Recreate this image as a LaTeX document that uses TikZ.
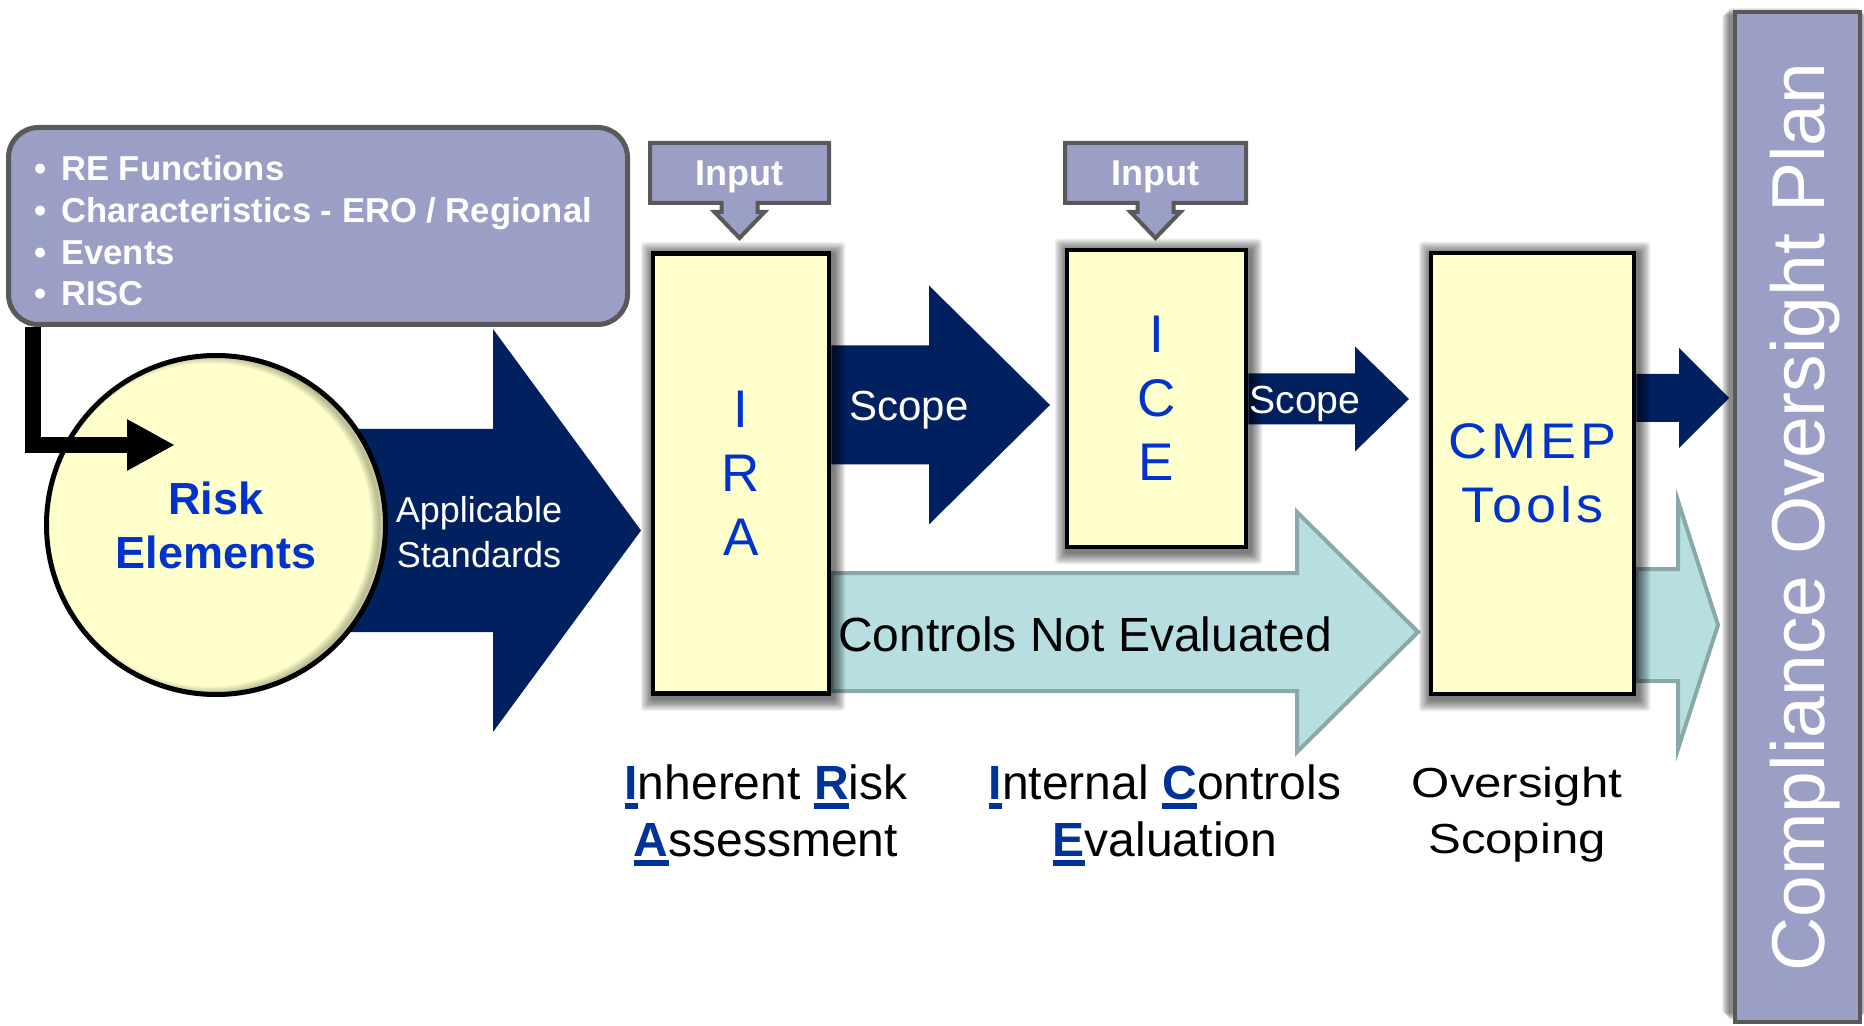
\documentclass[tikz,border=0pt]{standalone}
\usepackage{fontspec}
\setmainfont{Liberation Sans}
\newfontfamily\widefont[FakeStretch=1.17]{Liberation Sans}
\newfontfamily\spacedfont[FakeStretch=1.08,LetterSpace=8]{Liberation Sans}
\usetikzlibrary{calc,arrows.meta,backgrounds}
\pgfdeclarelayer{shadow}
\pgfsetlayers{background,shadow,main}

\definecolor{navy}{RGB}{0,32,96}
\definecolor{lavender}{RGB}{155,158,197}
\definecolor{frame}{RGB}{89,89,89}
\definecolor{paleyellow}{RGB}{255,255,204}
\definecolor{stepblue}{RGB}{0,51,204}
\definecolor{keyblue}{RGB}{0,51,153}
\definecolor{tealfill}{RGB}{183,222,225}
\definecolor{tealline}{RGB}{138,168,170}

% first letter of an acronym word: bold, blue, with a heavy underline
\newlength\keylen
\newcommand\keyletter[1]{\settowidth\keylen{\bfseries #1}%
  \textcolor{keyblue}{\rlap{\smash{\rule[-4.5pt]{\keylen}{3pt}}}\bfseries #1}}

% list bullet
\newcommand\bul{•\hspace{2.6pt} }

% block arrow: style, start, tip, shaft half height, head half height, head length
\newcommand\blockarrow[6]{%
  \path[#1] ($(#2)+(0,-#4)$) -- ($(#3)+(-#6,-#4)$) -- ($(#3)+(-#6,-#5)$) -- (#3)
    -- ($(#3)+(-#6,#5)$) -- ($(#3)+(-#6,#4)$) -- ($(#2)+(0,#4)$) -- cycle;}

% "Input" callout pointing down: centre, half width
\newcommand\inputcallout[2]{%
  \draw[callout] ($(#1)+(-#2,-30)$) -- ($(#1)+(#2,-30)$) -- ($(#1)+(#2,30)$)
    -- ($(#1)+(18,30)$) -- ($(#1)+(18,39)$) -- ($(#1)+(25,39)$) -- ($(#1)+(0,65)$)
    -- ($(#1)+(-25,39)$) -- ($(#1)+(-18,39)$) -- ($(#1)+(-18,30)$) -- ($(#1)+(-#2,30)$) -- cycle;}

% soft drop shadow round a rectangular node: node, x offset, y offset, steps, step size, opacity
\newcommand\boxshadow[6]{%
  \foreach \k in {1,...,#4} {%
    \fill[black, opacity=#6, rounded corners=1.5pt]
      ($(#1.north west)+(#2-\k*#5,#3-\k*#5)$) rectangle ($(#1.south east)+(#2+\k*#5,#3+\k*#5)$);
  }}

\begin{document}
\begin{tikzpicture}[x=0.5pt, y=-0.5pt,
  stepbox/.style={draw=black, line width=2.25pt, fill=paleyellow, text=stepblue,
    align=center, inner sep=0pt},
  callout/.style={draw=frame, line width=2pt, fill=lavender, line join=miter},
  inputtext/.style={text=white, font=\fontsize{18}{18}\selectfont\bfseries,
    text height=12.9pt, text depth=0pt, inner sep=0pt},
  navyarrow/.style={fill=navy},
  tealarrow/.style={fill=tealfill, draw=tealline, line width=2pt, line join=miter},
  arrowtext/.style={text=white, inner sep=0pt, align=center},
  caption/.style={align=center, inner sep=0pt, font=\fontsize{24}{28.5}\selectfont},
]
\useasboundingbox (0,0) rectangle (1864,1026);

% sources of risk
\node[draw=frame, line width=2.5pt, fill=lavender, rounded corners=15pt,
  minimum width=309.5pt, minimum height=98.5pt, inner sep=0pt] (src) at (318,226) {};
\node[anchor=west, inner sep=0pt, align=left, text=white,
  font=\fontsize{17.3}{20.85}\selectfont\bfseries] (srclist) at (34,231)
  {\bul RE Functions\\\bul Characteristics - ERO / Regional\\\bul Events\\\bul RISC};

% risk elements, with a soft inner shade along its right rim
\node[circle, draw=black, line width=2.5pt, fill=paleyellow, minimum size=169.5pt,
  inner sep=0pt, align=center, text=stepblue,
  font=\fontsize{22.5}{27}\selectfont\bfseries] (risk) at (216,525) {Risk\\Elements};
\begin{scope}
  \clip (risk.center) circle [radius=84.75pt];
  \foreach \k in {1,...,8}
    \draw[black, opacity=0.035, line width=\k*1pt] ($(risk.center)+(-6,0)$) circle [radius=84.75pt];
\end{scope}

% process steps
\node[stepbox, minimum width=88pt, minimum height=220pt,
  font=\fontsize{26.5}{32}\selectfont] (ira) at (741,473.5) {I\\R\\A};
\node[stepbox, minimum width=89.5pt, minimum height=148.5pt,
  font=\fontsize{26.5}{32}\selectfont] (ice) at (1156.5,398.5) {I\\C\\E};
\node[stepbox, minimum width=101.5pt, minimum height=220.5pt,
  font=\spacedfont\fontsize{25}{32}\selectfont] (cmep) at (1532.5,473.5) {CMEP\\Tools};

% resulting plan
\node[draw=frame, line width=2pt, fill=lavender, rotate=90, minimum width=505pt,
  minimum height=62.5pt, inner sep=0pt, text=white,
  font=\fontsize{37.5}{40}\selectfont, text height=26.9pt, text depth=0pt]
  (plan) at (1797.5,517) {Compliance Oversight Plan};

% inputs
\coordinate (in1c) at (739.5,173);
\coordinate (in2c) at (1155.5,173);
\inputcallout{in1c}{89.5}
\inputcallout{in2c}{90.5}
\node[inputtext] (in1) at (in1c) {Input};
\node[inputtext] (in2) at (in2c) {Input};

% feed from the sources into the risk elements
\coordinate (elbowtip) at (175,445);
\draw[line width=8pt, line join=miter, -{Triangle[length=24pt,width=24pt]}]
  ($(src.south west)+(27,0)$) |- (elbowtip);

% arrow labels
\node[arrowtext, font=\fontsize{18}{22.5}\selectfont] (appstd) at (479,532) {Applicable\\Standards};
\node[arrowtext, font=\fontsize{21}{21}\selectfont, text height=15pt, text depth=0pt]
  (scope1) at (909,406) {Scope};
\node[arrowtext, font=\fontsize{19.6}{19.6}\selectfont, text height=14pt, text depth=0pt]
  (scope2) at (1305,400) {Scope};
\node[inner sep=0pt, font=\fontsize{24}{24}\selectfont] (notevald) at (1085,634) {Controls Not Evaluated};

% step names
\node[caption] (iraname) at (766,811) {\keyletter{I}nherent \keyletter{R}isk\\\keyletter{A}ssessment};
\node[caption] (icename) at (1165,811) {\keyletter{I}nternal \keyletter{C}ontrols\\\keyletter{E}valuation};
\node[caption, font=\widefont\fontsize{21}{28}\selectfont] (cmepname) at (1517,815) {Oversight\\Scoping};

% arrow tips and the points where each arrow leaves its box
\coordinate (tipA) at (641,530.5);
\coordinate (tipS1) at (1050,405);
\coordinate (tipS2) at (1409,399);
\coordinate (tipS3) at (1729,398);
\coordinate (tipC) at (1418,632);
\coordinate (tipT2) at (1718,625);
\coordinate (startA) at (risk.center |- tipA);
\coordinate (startS1) at (ira.east |- tipS1);
\coordinate (startS2) at (ice.east |- tipS2);
\coordinate (startS3) at (cmep.east |- tipS3);
\coordinate (startC) at (ira.east |- tipC);
\coordinate (startT2) at (cmep.east |- tipT2);

% drop shadows of the boxes
\begin{pgfonlayer}{shadow}
  \boxshadow{ira}{2}{3}{10}{1.2}{0.065}
  \boxshadow{ice}{2}{3}{10}{1.2}{0.065}
  \boxshadow{cmep}{2}{3}{10}{1.2}{0.065}
  \boxshadow{plan}{-3}{-3}{8}{1}{0.07}
\end{pgfonlayer}

% block arrows beneath everything else
\begin{pgfonlayer}{background}
  \fill[white] (0,0) rectangle (1864,1026);
  \blockarrow{navyarrow}{startA}{tipA}{101.5}{201.5}{148}
  \blockarrow{tealarrow}{startC}{tipC}{59}{120}{121}
  \blockarrow{tealarrow}{startT2}{tipT2}{56}{124}{40}
  \blockarrow{navyarrow}{startS1}{tipS1}{59.5}{119.5}{121}
  \blockarrow{navyarrow}{startS2}{tipS2}{25.5}{52.5}{54}
  \blockarrow{navyarrow}{startS3}{tipS3}{24}{50}{50}
\end{pgfonlayer}
\end{tikzpicture}
\end{document}
